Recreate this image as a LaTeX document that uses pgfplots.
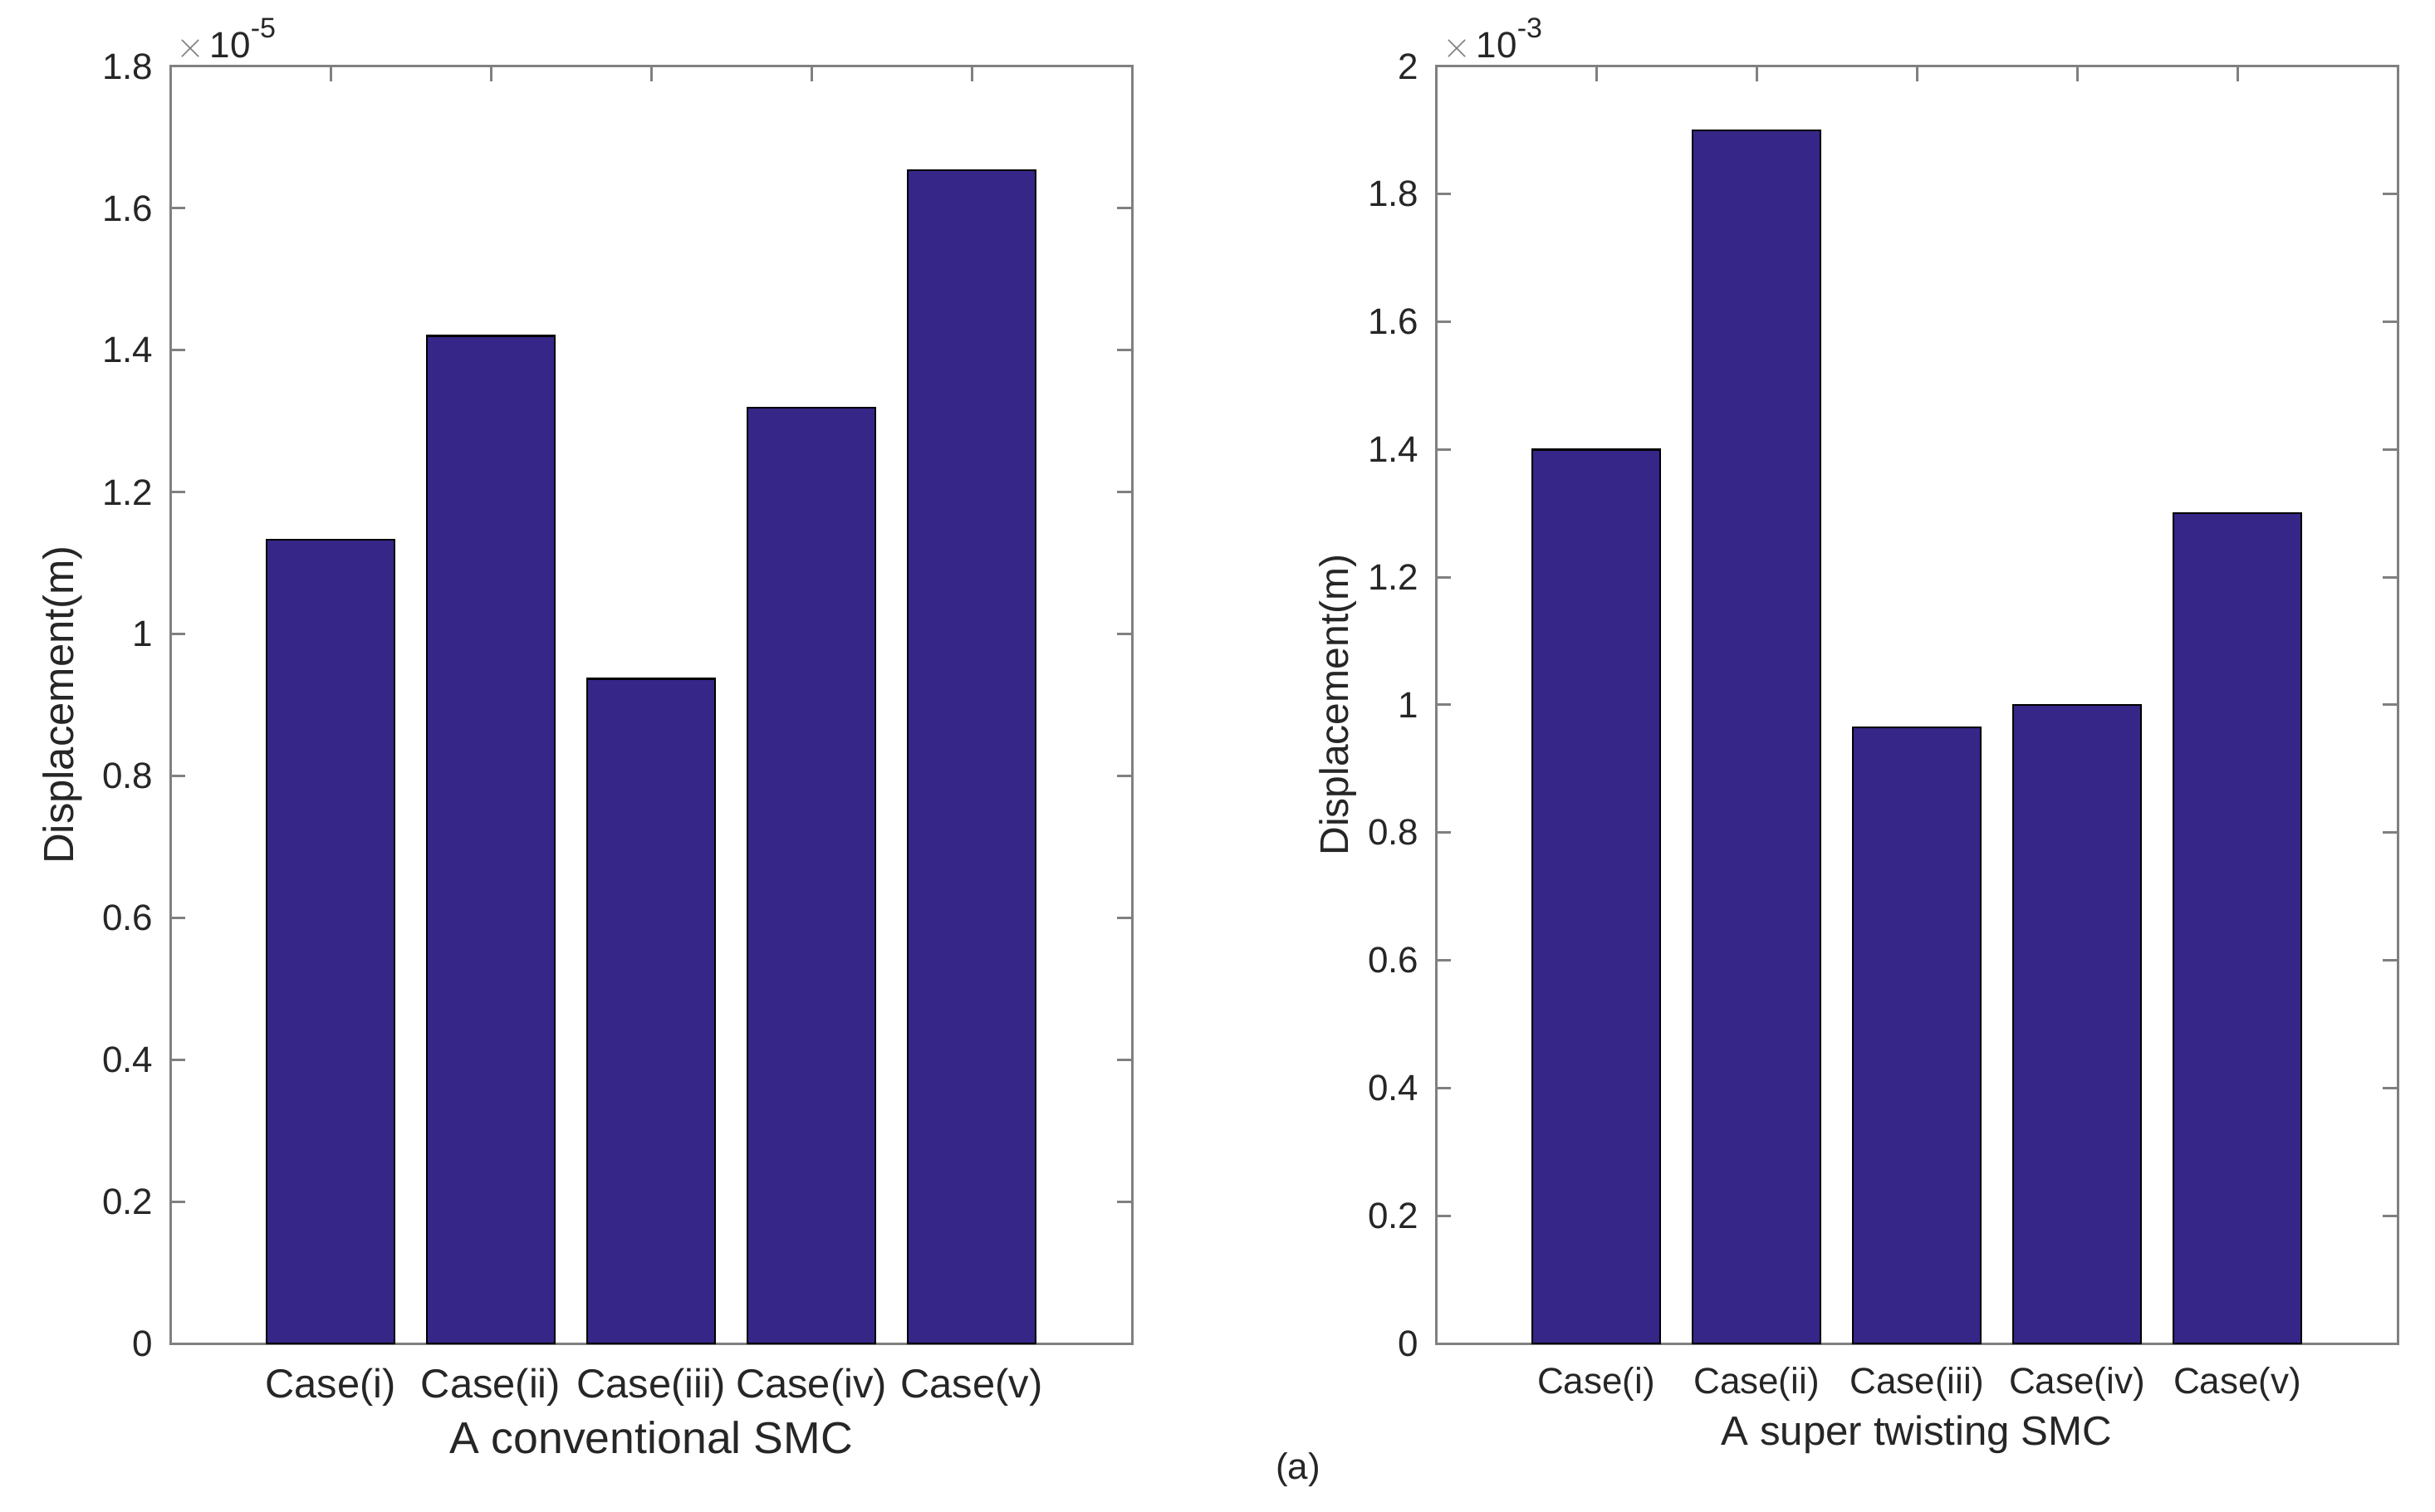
\documentclass[border=0pt]{standalone}
\usepackage{fontspec}
\setmainfont{Liberation Sans}
\usepackage{pgfplots}
\pgfplotsset{compat=1.18}
\definecolor{barc}{RGB}{53,38,135}
\definecolor{axc}{RGB}{128,128,128}
\definecolor{txc}{RGB}{38,38,38}
\pgfplotsset{mystyle/.style={
  scale only axis, width=289.5pt, height=384.5pt,
  xmin=0, xmax=6, ymin=0,
  xtick={1,2,3,4,5},
  xticklabels={Case(i),Case(ii),Case(iii),Case(iv),Case(v)},
  ybar, bar width=0.8,
  clip=false,
  axis line style={draw=axc, line width=0.75pt},
  major tick style={draw=axc, line width=0.75pt},
  major tick length=4.5pt,
  tick align=inside,
  xtick pos=both, ytick pos=both,
  scaled y ticks=false,
  tick label style={font=\fontsize{11}{13}\selectfont, text=txc},
  label style={text=txc},
  ylabel={Displacement(m)},
  yticklabel style={anchor=east, inner sep=0pt, xshift=-5pt},
}}
\newcommand{\scl}[1]{{\color{gray}$\times$}\kern1.5pt10\raisebox{6pt}{\fontsize{8.5}{8.5}\selectfont #1}}
\begin{document}
\begin{tikzpicture}
\path[use as bounding box] (0,0) rectangle (733pt,455pt);
\begin{axis}[mystyle,
  at={(51.25pt,50.5pt)}, anchor=south west,
  ymax=1.8e-5,
  ytick={0,0.2e-5,0.4e-5,0.6e-5,0.8e-5,1.0e-5,1.2e-5,1.4e-5,1.6e-5,1.8e-5},
  yticklabels={0,0.2,0.4,0.6,0.8,1,1.2,1.4,1.6,1.8},
  xticklabel style={anchor=base, yshift=-16.25pt, font=\fontsize{12.2}{14}\selectfont},
  xlabel={A conventional SMC},
  xlabel style={at={([yshift=-33pt]axis description cs:0.5,0)}, anchor=base, font=\fontsize{13.4}{15}\selectfont},
  ylabel style={at={([xshift=-32.5pt]axis description cs:0,0.5)}, anchor=center, font=\fontsize{12.7}{15}\selectfont},
]
\addplot[fill=barc, draw=black, line width=0.6pt] coordinates {(1,1.133e-5) (2,1.420e-5) (3,0.937e-5) (4,1.319e-5) (5,1.654e-5)};
\node[anchor=base west, inner sep=0pt, text=txc, font=\fontsize{11}{13}\selectfont]
  at ([xshift=1.75pt,yshift=2.5pt]axis description cs:0,1) {\scl{-5}};
\end{axis}
\begin{axis}[mystyle,
  at={(432.25pt,50.5pt)}, anchor=south west,
  ymax=2e-3,
  ytick={0,0.2e-3,0.4e-3,0.6e-3,0.8e-3,1.0e-3,1.2e-3,1.4e-3,1.6e-3,1.8e-3,2.0e-3},
  yticklabels={0,0.2,0.4,0.6,0.8,1,1.2,1.4,1.6,1.8,2},
  xticklabel style={anchor=base, yshift=-15pt},
  xlabel={A super twisting SMC},
  xlabel style={at={([yshift=-30.5pt]axis description cs:0.5,0)}, anchor=base, font=\fontsize{12.3}{14}\selectfont},
  ylabel style={at={([xshift=-29.5pt]axis description cs:0,0.5)}, anchor=center, font=\fontsize{12}{14}\selectfont},
]
\addplot[fill=barc, draw=black, line width=0.6pt] coordinates {(1,1.400e-3) (2,1.900e-3) (3,0.965e-3) (4,1.000e-3) (5,1.300e-3)};
\node[anchor=base west, inner sep=0pt, text=txc, font=\fontsize{11}{13}\selectfont]
  at ([xshift=2pt,yshift=2.5pt]axis description cs:0,1) {\scl{-3}};
\end{axis}
\node[text=txc, font=\fontsize{11}{13}\selectfont] at (390.75pt,12.5pt) {(a)};
\end{tikzpicture}
\end{document}
